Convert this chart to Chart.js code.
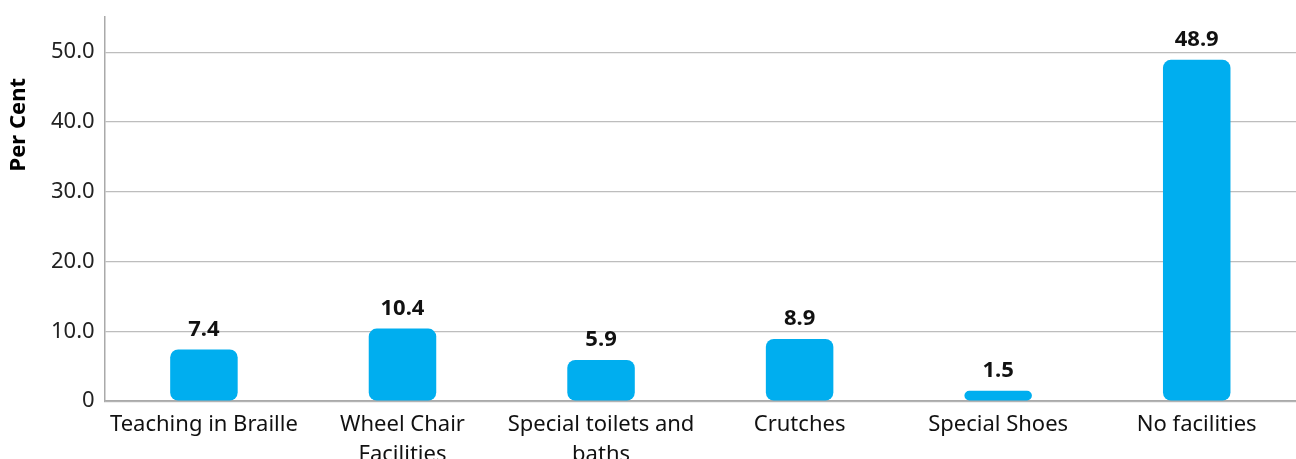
<!DOCTYPE html>
<html>
<head>
<meta charset="utf-8">
<script src="https://cdn.jsdelivr.net/npm/chart.js@4.4.1/dist/chart.umd.min.js"></script>
<style>
  html, body { margin: 0; padding: 0; background: #fff; overflow: hidden; }
  #wrap { width: 1296px; height: 477px; margin-top: -6px; }
</style>
</head>
<body>
<div id="wrap"><canvas id="facilitiesChart"></canvas></div>
<script>
// -------------------- DATA --------------------
const facilities = [
  'Teaching in Braille',
  ['Wheel Chair', 'Facilities'],
  ['Special toilets and', 'baths'],
  'Crutches',
  'Special Shoes',
  'No facilities'
];
const perCent = [7.4, 10.4, 5.9, 8.9, 1.5, 48.9]; // %
const yTicks = [0, 10, 20, 30, 40, 50];
const yTitle = 'Per Cent';

const FONT = '"Noto Sans", Lato, sans-serif';

// value printed above each bar + the rotated y title (sits high on the axis)
const barValueLabels = {
  id: 'barValueLabels',
  afterDatasetsDraw(chart) {
    const { ctx, chartArea } = chart;
    const meta = chart.getDatasetMeta(0);
    ctx.save();
    ctx.font = 'bold 22px ' + FONT;
    ctx.fillStyle = '#111';
    ctx.textAlign = 'center';
    ctx.textBaseline = 'bottom';
    meta.data.forEach((bar, i) => {
      ctx.fillText(perCent[i].toFixed(1), bar.x, bar.y - 9);
    });

    ctx.translate(19, chartArea.top + chartArea.height * 0.28);
    ctx.rotate(-Math.PI / 2);
    ctx.font = 'bold 22px ' + FONT;
    ctx.fillStyle = '#000';
    ctx.textBaseline = 'middle';
    ctx.fillText(yTitle, 0, 0);
    ctx.restore();
  }
};

// -------------------- CHART --------------------
const ctx = document.getElementById('facilitiesChart').getContext('2d');
new Chart(ctx, {
  type: 'bar',
  data: {
    labels: facilities,
    datasets: [{
      data: perCent,
      backgroundColor: '#00AEEF',
      borderRadius: 8,
      borderSkipped: false,
      barPercentage: 0.34,
      categoryPercentage: 1
    }]
  },
  options: {
    responsive: true,
    maintainAspectRatio: false,
    animation: false,
    layout: { padding: { top: 10, left: 41, right: 0, bottom: 0 } },
    plugins: {
      legend: { display: false },
      tooltip: { enabled: false }
    },
    scales: {
      x: {
        grid: { display: false },
        border: { color: '#aaa', width: 1.5 },
        ticks: {
          font: { family: FONT, size: 22, lineHeight: 1.36 },
          color: '#111',
          maxRotation: 0,
          autoSkip: false,
          padding: 1
        }
      },
      y: {
        min: 0,
        max: 55,
        afterBuildTicks: (axis) => { axis.ticks = yTicks.map(v => ({ value: v })); },
        grid: { color: '#bdbdbd', lineWidth: 1.2, drawTicks: false },
        border: { color: '#aaa', width: 1.5 },
        ticks: {
          font: { family: FONT, size: 22 },
          color: '#222',
          padding: 10,
          callback: (v) => v === 0 ? '0' : v.toFixed(1)
        }
      }
    }
  },
  plugins: [barValueLabels]
});
</script>
</body>
</html>
